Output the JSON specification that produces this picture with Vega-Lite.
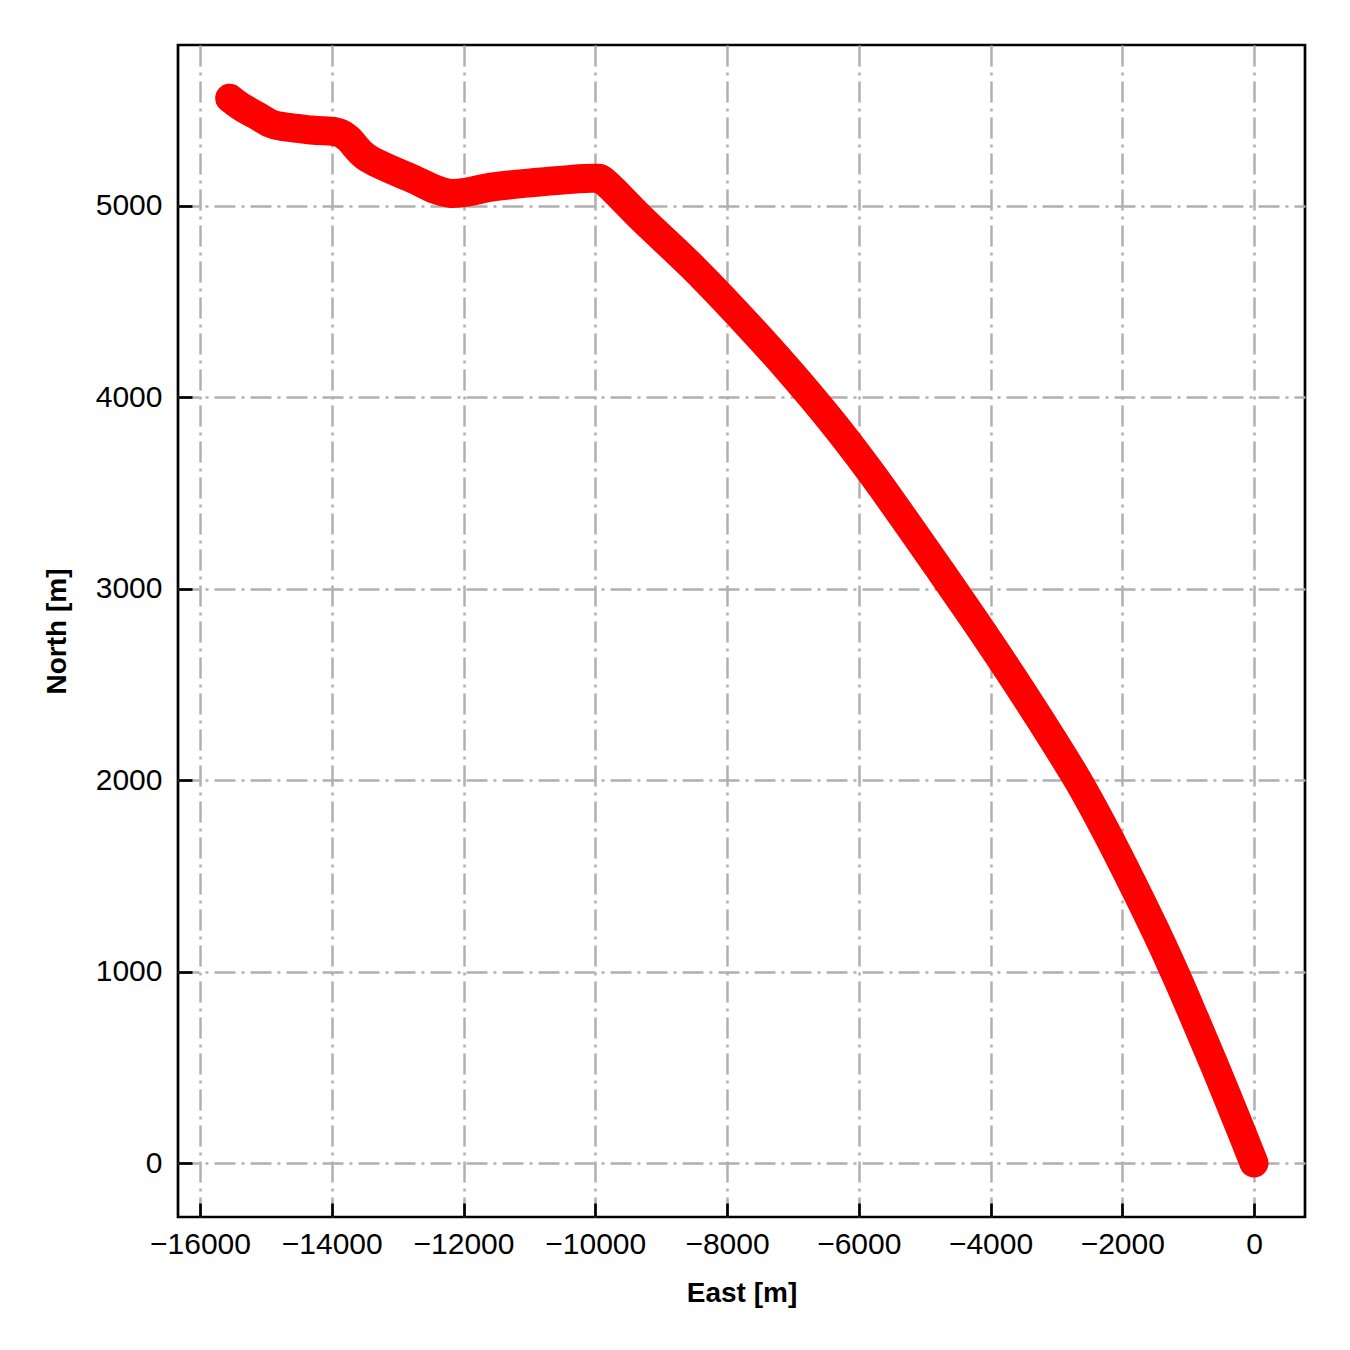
{
  "$schema": "https://vega.github.io/schema/vega-lite/v6.json",
  "width": 1127,
  "height": 1172,
  "autosize": {"type": "none"},
  "padding": {"left": 178, "top": 45, "right": 45, "bottom": 133},
  "background": "white",
  "config": {
    "view": {"stroke": "black", "strokeWidth": 2.7},
    "axis": {
      "labelFont": "Liberation Sans",
      "labelFontSize": 30,
      "labelColor": "black",
      "titleFont": "Liberation Sans",
      "titleFontSize": 28,
      "titleFontWeight": "bold",
      "titleColor": "black",
      "domain": false,
      "tickColor": "black",
      "tickWidth": 2.7,
      "tickSize": -14,
      "grid": true,
      "gridColor": "#b0b0b0",
      "gridWidth": 2.5,
      "gridDash": [21, 6, 3, 6],
      "format": "d"
    }
  },
  "data": {
    "values": [
      {"i": 1, "east": -15549, "north": 5563},
      {"i": 2, "east": -15380, "north": 5520},
      {"i": 3, "east": -15120, "north": 5469},
      {"i": 4, "east": -14866, "north": 5423},
      {"i": 5, "east": -14310, "north": 5397},
      {"i": 6, "east": -13955, "north": 5388},
      {"i": 7, "east": -13753, "north": 5354},
      {"i": 8, "east": -13450, "north": 5249},
      {"i": 9, "east": -12792, "north": 5145},
      {"i": 10, "east": -12210, "north": 5066},
      {"i": 11, "east": -11527, "north": 5101},
      {"i": 12, "east": -10767, "north": 5127},
      {"i": 13, "east": -10034, "north": 5145},
      {"i": 14, "east": -9830, "north": 5118},
      {"i": 15, "east": -9275, "north": 4927},
      {"i": 16, "east": -8478, "north": 4666},
      {"i": 17, "east": -7750, "north": 4404},
      {"i": 18, "east": -7066, "north": 4143},
      {"i": 19, "east": -6429, "north": 3882},
      {"i": 20, "east": -5844, "north": 3621},
      {"i": 21, "east": -5298, "north": 3359},
      {"i": 22, "east": -4767, "north": 3098},
      {"i": 23, "east": -4243, "north": 2837},
      {"i": 24, "east": -3734, "north": 2576},
      {"i": 25, "east": -3241, "north": 2314},
      {"i": 26, "east": -2676, "north": 2001},
      {"i": 27, "east": -2259, "north": 1740},
      {"i": 28, "east": -1872, "north": 1479},
      {"i": 29, "east": -1500, "north": 1217},
      {"i": 30, "east": -1173, "north": 972},
      {"i": 31, "east": -891, "north": 747},
      {"i": 32, "east": -577, "north": 491},
      {"i": 33, "east": -261, "north": 225},
      {"i": 34, "east": 0, "north": 0}
    ]
  },
  "mark": {"type": "line", "color": "#ff0000", "strokeWidth": 29, "strokeCap": "round", "strokeJoin": "round", "interpolate": "cardinal", "clip": true},
  "encoding": {
    "x": {
      "field": "east", "type": "quantitative",
      "scale": {"domain": [-16334, 774], "nice": false, "zero": false},
      "axis": {"title": "East [m]", "values": [-16000, -14000, -12000, -10000, -8000, -6000, -4000, -2000, 0], "labelPadding": 26, "titlePadding": 20}
    },
    "y": {
      "field": "north", "type": "quantitative",
      "scale": {"domain": [-282, 5841], "nice": false, "zero": false},
      "axis": {"title": "North [m]", "values": [0, 1000, 2000, 3000, 4000, 5000], "labelPadding": 30, "titlePadding": 24}
    },
    "order": {"field": "i", "type": "quantitative"}
  }
}
